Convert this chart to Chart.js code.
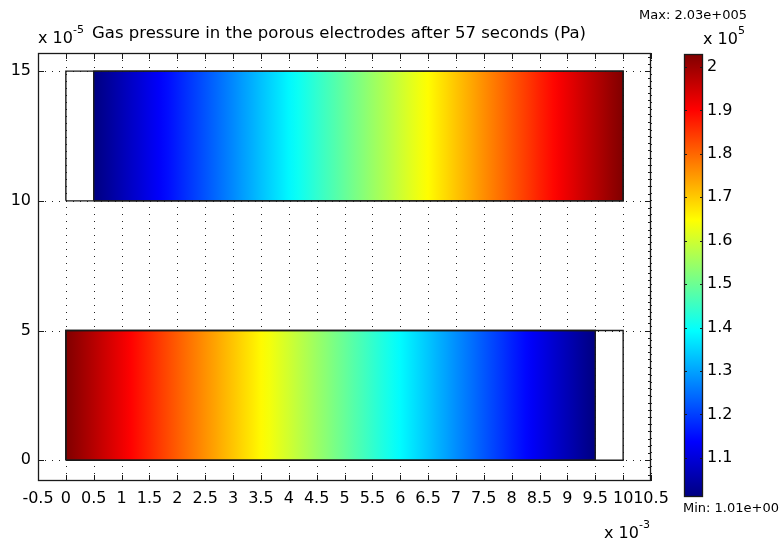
<!DOCTYPE html>
<html>
<head>
<meta charset="utf-8">
<script src="https://cdn.jsdelivr.net/npm/chart.js@4.4.1/dist/chart.umd.min.js"></script>
<style>
  body { margin: 0; background: #fff; }
  #wrap { position: relative; width: 780px; height: 542px; }
  canvas { position: absolute; top: 0; display: block; }
  #field { left: 0; }
  #cb { left: 660px; }
</style>
</head>
<body>
<div id="wrap">
  <canvas id="field" width="780" height="542"></canvas>
  <canvas id="cb" width="120" height="542"></canvas>
</div>
<script>
// x in 1e-3 m, y in 1e-5 m, pressure in 1e5 Pa
const xTicks = [-0.5, 0, 0.5, 1, 1.5, 2, 2.5, 3, 3.5, 4, 4.5, 5, 5.5, 6, 6.5, 7, 7.5, 8, 8.5, 9, 9.5, 10, 10.5];
const yTicks = [0, 5, 10, 15];
const cbTicks = [1.1, 1.2, 1.3, 1.4, 1.5, 1.6, 1.7, 1.8, 1.9, 2];

// the two gas channels (outlines)
const channelX = [0, 10];
const topChannelY = [10, 15];
const bottomChannelY = [0, 5];

// pressure along the porous electrodes
const topElectrodeX = [0.5, 2.5, 4.5, 6.5, 8.5, 10];
const topElectrodeP = [1.01, 1.22, 1.44, 1.65, 1.87, 2.03];
const bottomElectrodeX = [0, 2, 4, 6, 8, 9.5];
const bottomElectrodeP = [2.03, 1.81, 1.60, 1.39, 1.17, 1.01];

const pMin = 1.01;
const pMax = 2.03;
const yMin = -0.8;
const yMax = 15.7;

const FONT = '"DejaVu Sans", sans-serif';
const title = 'Gas pressure in the porous electrodes after 57 seconds (Pa)';

// matlab jet colormap
function jet(p) {
  const t = Math.min(1, Math.max(0, (p - pMin) / (pMax - pMin)));
  const c = v => Math.round(255 * Math.min(1, Math.max(0, v)));
  return `rgb(${c(1.5 - Math.abs(4 * t - 3))},${c(1.5 - Math.abs(4 * t - 2))},${c(1.5 - Math.abs(4 * t - 1))})`;
}

const clamp01 = v => Math.min(1, Math.max(0, v));

function stripFill(xs, ps) {
  return ({chart}) => {
    const sx = chart.scales.x;
    if (!chart.chartArea || !sx) return 'transparent';
    const x0 = sx.getPixelForValue(xs[0]);
    const x1 = sx.getPixelForValue(xs[xs.length - 1]);
    const g = chart.ctx.createLinearGradient(x0, 0, x1, 0);
    for (let i = 0; i < xs.length - 1; i++) {
      for (let k = 0; k <= 12; k++) {
        const f = k / 12;
        const px = sx.getPixelForValue(xs[i] + (xs[i + 1] - xs[i]) * f);
        g.addColorStop(clamp01((px - x0) / (x1 - x0)), jet(ps[i] + (ps[i + 1] - ps[i]) * f));
      }
    }
    return g;
  };
}

const box = (xs, ys) => [
  {x: xs[0], y: ys[0]}, {x: xs[1], y: ys[0]}, {x: xs[1], y: ys[1]},
  {x: xs[0], y: ys[1]}, {x: xs[0], y: ys[0]}
];

const outline = data => ({data, borderColor: '#1a1a1a', borderWidth: 1.4, fill: false, order: 0});

const sci = v => (v * 1e5).toExponential(2).replace(/e([+-])(\d+)/, (m, s, d) => 'e' + s + d.padStart(3, '0'));

function expLabel(ctx, x, y, exp) {
  ctx.font = `16px ${FONT}`;
  ctx.fillText('x 10', x, y);
  const w = ctx.measureText('x 10').width;
  ctx.font = `11px ${FONT}`;
  ctx.fillText(exp, x + w, y - 10);
}

const framePlugin = {
  id: 'frame',
  beforeDatasetsDraw(chart) {
    const {ctx, chartArea: a, scales: {x, y}} = chart;
    ctx.save();
    ctx.strokeStyle = '#222';
    ctx.lineWidth = 1;
    ctx.setLineDash([1, 6]);
    ctx.beginPath();
    xTicks.forEach(v => {
      const px = Math.round(x.getPixelForValue(v)) + 0.5;
      ctx.moveTo(px, a.top); ctx.lineTo(px, a.bottom);
    });
    yTicks.forEach(v => {
      const py = Math.round(y.getPixelForValue(v)) + 0.5;
      ctx.moveTo(a.left, py); ctx.lineTo(a.right, py);
    });
    ctx.stroke();
    ctx.restore();
  },
  afterDatasetsDraw(chart) {
    const {ctx, chartArea: a, scales: {x, y}} = chart;
    ctx.save();
    ctx.strokeStyle = '#1a1a1a';
    ctx.lineWidth = 1;
    ctx.beginPath();
    xTicks.forEach(v => {
      const px = Math.round(x.getPixelForValue(v)) + 0.5;
      ctx.moveTo(px, a.top); ctx.lineTo(px, a.top + 6);
      ctx.moveTo(px, a.bottom); ctx.lineTo(px, a.bottom - 6);
    });
    yTicks.forEach(v => {
      const py = Math.round(y.getPixelForValue(v)) + 0.5;
      ctx.moveTo(a.left, py); ctx.lineTo(a.left + 6, py);
      ctx.moveTo(a.right, py); ctx.lineTo(a.right - 6, py);
    });
    // minor marks down the right edge
    const step = 5 / 18;
    for (let v = Math.ceil(yMin / step) * step; v <= yMax; v += step) {
      const py = Math.round(y.getPixelForValue(v)) + 0.5;
      ctx.moveTo(a.right, py); ctx.lineTo(a.right - 3, py);
    }
    ctx.stroke();
    ctx.lineWidth = 1.3;
    ctx.strokeRect(a.left + 0.5, a.top + 0.5, a.width - 1, a.height - 1);
    ctx.restore();
  },
  afterDraw(chart) {
    const {ctx, chartArea: a} = chart;
    ctx.save();
    ctx.fillStyle = '#000';
    ctx.textAlign = 'left';
    ctx.textBaseline = 'alphabetic';
    expLabel(ctx, a.left, 43, '-5');
    ctx.font = `16.5px ${FONT}`;
    ctx.fillText(title, 92, 38);
    expLabel(ctx, 604, 538, '-3');
    expLabel(ctx, 703, 44, '5');
    ctx.font = `13px ${FONT}`;
    ctx.fillText('Max: ' + sci(pMax), 639, 19);
    ctx.fillText('Min: ' + sci(pMin), 683, 512);
    ctx.restore();
  }
};

const tickFont = {family: FONT, size: 16};

new Chart(document.getElementById('field'), {
  type: 'line',
  data: {
    datasets: [
      outline(box(channelX, topChannelY)),
      outline(box(channelX, bottomChannelY)),
      outline(box([topElectrodeX[0], topElectrodeX[topElectrodeX.length - 1]], topChannelY)),
      outline(box([bottomElectrodeX[0], bottomElectrodeX[bottomElectrodeX.length - 1]], bottomChannelY)),
      {
        data: topElectrodeX.map(x => ({x, y: topChannelY[1]})),
        fill: {value: topChannelY[0]},
        backgroundColor: stripFill(topElectrodeX, topElectrodeP),
        borderColor: 'transparent', borderWidth: 0, order: 1
      },
      {
        data: bottomElectrodeX.map(x => ({x, y: bottomChannelY[1]})),
        fill: {value: bottomChannelY[0]},
        backgroundColor: stripFill(bottomElectrodeX, bottomElectrodeP),
        borderColor: 'transparent', borderWidth: 0, order: 1
      }
    ]
  },
  options: {
    responsive: false,
    animation: false,
    devicePixelRatio: 1,
    layout: {padding: {top: 53, right: 129, left: 0, bottom: 0}},
    elements: {point: {radius: 0}, line: {tension: 0}},
    plugins: {legend: {display: false}, tooltip: {enabled: false}},
    scales: {
      x: {
        type: 'linear',
        min: xTicks[0],
        max: xTicks[xTicks.length - 1],
        afterBuildTicks: s => { s.ticks = xTicks.map(value => ({value})); },
        afterFit: s => { s.height = 61; },
        grid: {display: false, drawTicks: false},
        border: {display: false},
        ticks: {padding: 8, color: '#000', font: tickFont, autoSkip: false, maxRotation: 0, callback: v => String(v)}
      },
      y: {
        type: 'linear',
        min: yMin,
        max: yMax,
        afterBuildTicks: s => { s.ticks = yTicks.map(value => ({value})); },
        afterFit: s => { s.width = 38; },
        grid: {display: false, drawTicks: false},
        border: {display: false},
        ticks: {padding: 7, color: '#000', font: tickFont, callback: v => String(v)}
      }
    }
  },
  plugins: [framePlugin]
});

// colour scale
const cbFramePlugin = {
  id: 'cbframe',
  afterDatasetsDraw(chart) {
    const {ctx, chartArea: a, scales: {y}} = chart;
    ctx.save();
    ctx.strokeStyle = '#1a1a1a';
    ctx.lineWidth = 1;
    ctx.beginPath();
    cbTicks.forEach(v => {
      const py = Math.round(y.getPixelForValue(v)) + 0.5;
      ctx.moveTo(a.left, py); ctx.lineTo(a.left + 3, py);
      ctx.moveTo(a.right, py); ctx.lineTo(a.right - 3, py);
    });
    ctx.stroke();
    ctx.lineWidth = 1.3;
    ctx.strokeRect(a.left + 0.5, a.top + 0.5, a.width - 1, a.height - 1);
    ctx.restore();
  }
};

new Chart(document.getElementById('cb'), {
  type: 'bar',
  data: {
    labels: [''],
    datasets: [{
      data: [[pMin, pMax]],
      backgroundColor: ({chart}) => {
        const y = chart.scales.y;
        if (!chart.chartArea || !y) return 'transparent';
        const g = chart.ctx.createLinearGradient(0, y.getPixelForValue(pMin), 0, y.getPixelForValue(pMax));
        for (let k = 0; k <= 32; k++) g.addColorStop(k / 32, jet(pMin + (pMax - pMin) * k / 32));
        return g;
      },
      borderWidth: 0,
      barPercentage: 1,
      categoryPercentage: 1
    }]
  },
  options: {
    responsive: false,
    animation: false,
    devicePixelRatio: 1,
    layout: {padding: {left: 24, top: 54, bottom: 45, right: 0}},
    plugins: {legend: {display: false}, tooltip: {enabled: false}},
    scales: {
      x: {display: false},
      y: {
        position: 'right',
        min: pMin,
        max: pMax,
        afterBuildTicks: s => { s.ticks = cbTicks.map(value => ({value})); },
        afterFit: s => { s.width = 77; },
        grid: {display: false, drawTicks: false},
        border: {display: false},
        ticks: {padding: 4, color: '#000', font: tickFont, callback: v => String(v)}
      }
    }
  },
  plugins: [cbFramePlugin]
});
</script>
</body>
</html>
